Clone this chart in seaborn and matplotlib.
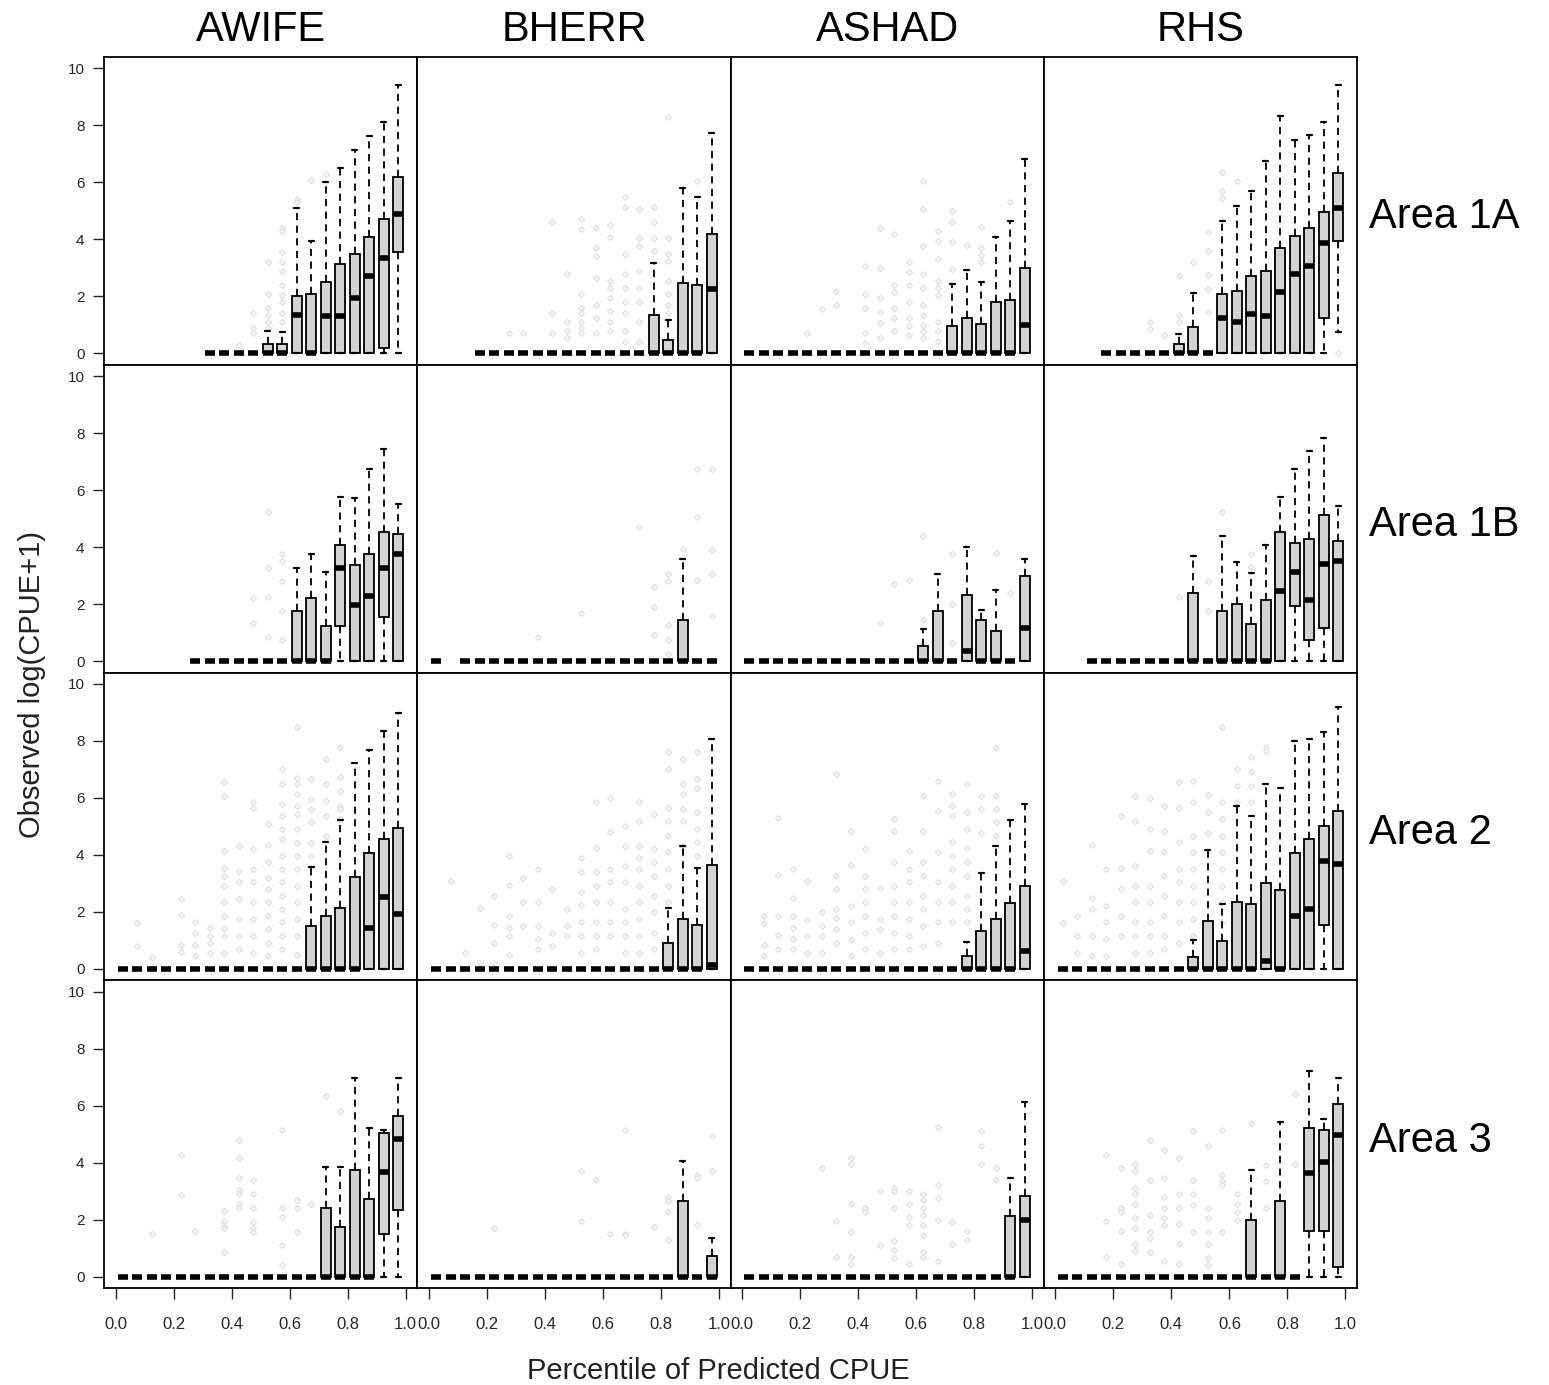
import numpy as np
import pandas as pd
import matplotlib
matplotlib.use("Agg")
import matplotlib.pyplot as plt
import seaborn as sns

sns.set_style("white")
plt.rcParams["font.family"] = ["Liberation Sans", "DejaVu Sans"]

species = ["AWIFE", "BHERR", "ASHAD", "RHS"]
areas = ["Area 1A", "Area 1B", "Area 2", "Area 3"]

# midpoints of the 20 percentile classes of predicted CPUE
bin_mid = [0.025, 0.075, 0.125, 0.175, 0.225, 0.275, 0.325, 0.375, 0.425, 0.475,
           0.525, 0.575, 0.625, 0.675, 0.725, 0.775, 0.825, 0.875, 0.925, 0.975]

# first occupied percentile class per species (AWIFE, BHERR, ASHAD, RHS)
first_bin_1a = [6, 3, 0, 3]
first_bin_1b = [5, 0, 0, 2]
first_bin_2 = [0, 0, 0, 0]
first_bin_3 = [0, 0, 0, 0]
# classes without observations inside the occupied range
empty_bins_1b_bherr = [1]

# box summaries: (class, lower whisker, Q1, median, Q3, upper whisker);
# every other occupied class is all zeros
box_awife_1a = [(10, 0, 0, 0, 0.33, 0.80), (11, 0, 0, 0, 0.32, 0.74), (12, 0, 0, 1.35, 2.00, 5.10),
                (13, 0, 0, 0, 2.07, 3.93), (14, 0, 0, 1.30, 2.50, 6.00), (15, 0, 0, 1.30, 3.15, 6.50),
                (16, 0, 0, 1.95, 3.50, 7.15), (17, 0, 0, 2.72, 4.07, 7.62), (18, 0, 0.20, 3.35, 4.72, 8.12),
                (19, 0, 3.54, 4.90, 6.19, 9.42)]
box_bherr_1a = [(15, 0, 0, 0, 1.36, 3.16), (16, 0, 0, 0, 0.47, 1.17), (17, 0, 0, 0, 2.46, 5.82),
                (18, 0, 0, 0, 2.39, 5.49), (19, 0, 0, 2.26, 4.19, 7.75)]
box_ashad_1a = [(14, 0, 0, 0, 0.97, 2.45), (15, 0, 0, 0, 1.24, 2.91), (16, 0, 0, 0, 1.04, 2.51),
                (17, 0, 0, 0, 1.81, 4.08), (18, 0, 0, 0, 1.88, 4.66), (19, 0, 0, 0.98, 2.98, 6.83)]
box_rhs_1a = [(8, 0, 0, 0, 0.33, 0.67), (9, 0, 0, 0, 0.91, 2.13), (11, 0, 0, 1.24, 2.08, 4.66),
              (12, 0, 0, 1.11, 2.20, 5.16), (13, 0, 0, 1.37, 2.72, 5.69), (14, 0, 0, 1.31, 2.90, 6.76),
              (15, 0, 0, 2.15, 3.68, 8.32), (16, 0, 0, 2.79, 4.11, 7.48), (17, 0, 0, 3.05, 4.39, 7.68),
              (18, 0, 1.23, 3.88, 4.95, 8.12), (19, 0.74, 3.94, 5.10, 6.33, 9.43)]

box_awife_1b = [(12, 0, 0, 0, 1.75, 3.25), (13, 0, 0, 0, 2.20, 3.75), (14, 0, 0, 0, 1.23, 3.12),
                (15, 0, 1.22, 3.25, 4.08, 5.77), (16, 0, 0, 1.96, 3.36, 5.71), (17, 0, 0, 2.27, 3.75, 6.74),
                (18, 0, 1.54, 3.25, 4.53, 7.43), (19, 0, 0, 3.77, 4.47, 5.50)]
box_bherr_1b = [(17, 0, 0, 0, 1.44, 3.58)]
box_ashad_1b = [(12, 0, 0, 0, 0.52, 1.11), (13, 0, 0, 0, 1.75, 3.05), (15, 0, 0, 0.34, 2.33, 4.01),
                (16, 0, 0, 0, 1.43, 1.80), (17, 0, 0, 0, 1.04, 2.51), (19, 0, 0, 1.17, 2.98, 3.60)]
box_rhs_1b = [(9, 0, 0, 0, 2.40, 3.69), (11, 0, 0, 0, 1.75, 4.40), (12, 0, 0, 0, 2.00, 3.48),
              (13, 0, 0, 0, 1.29, 3.09), (14, 0, 0, 0, 2.13, 4.07), (15, 0, 0, 2.45, 4.53, 5.77),
              (16, 0, 1.95, 3.11, 4.13, 6.74), (17, 0, 0.73, 2.13, 4.27, 7.37), (18, 0, 1.17, 3.42, 5.11, 7.83),
              (19, 0, 0, 3.51, 4.21, 5.44)]

box_awife_2 = [(13, 0, 0, 0, 1.49, 3.59), (14, 0, 0, 0, 1.87, 4.46), (15, 0, 0, 0, 2.12, 5.22),
               (16, 0, 0, 0, 3.22, 7.22), (17, 0, 0, 1.45, 4.06, 7.67), (18, 0, 0, 2.51, 4.56, 8.33),
               (19, 0, 0, 1.94, 4.95, 8.97)]
box_bherr_2 = [(16, 0, 0, 0, 0.89, 2.12), (17, 0, 0, 0, 1.74, 4.32), (18, 0, 0, 0, 1.54, 3.54),
               (19, 0, 0, 0.12, 3.66, 8.05)]
box_ashad_2 = [(15, 0, 0, 0, 0.44, 0.95), (16, 0, 0, 0, 1.33, 3.35), (17, 0, 0, 0, 1.74, 4.30),
               (18, 0, 0, 0, 2.32, 5.22), (19, 0, 0, 0.63, 2.90, 5.78)]
box_rhs_2 = [(9, 0, 0, 0, 0.42, 1.00), (10, 0, 0, 0, 1.67, 4.16), (11, 0, 0, 0, 0.96, 2.29),
             (12, 0, 0, 0, 2.33, 5.72), (13, 0, 0, 0, 2.26, 5.37), (14, 0, 0, 0.28, 3.03, 6.50),
             (15, 0, 0, 0, 2.78, 6.34), (16, 0, 0, 1.86, 4.07, 8.00), (17, 0, 0, 2.09, 4.56, 8.08),
             (18, 0, 1.54, 3.80, 5.03, 8.32), (19, 0, 0, 3.67, 5.53, 9.19)]

box_awife_3 = [(14, 0, 0, 0, 2.39, 3.86), (15, 0, 0, 0, 1.74, 3.86), (16, 0, 0, 0, 3.74, 6.97),
               (17, 0, 0, 0, 2.71, 5.20), (18, 0, 1.48, 3.68, 5.04, 5.14), (19, 0, 2.32, 4.84, 5.62, 6.97)]
box_bherr_3 = [(17, 0, 0, 0, 2.65, 4.07), (19, 0, 0, 0, 0.72, 1.36)]
box_ashad_3 = [(18, 0, 0, 0, 2.14, 3.47), (19, 0, 0, 2.00, 2.84, 6.12)]
box_rhs_3 = [(13, 0, 0, 0, 2.00, 3.73), (15, 0, 0, 0, 2.65, 5.41), (17, 0, 1.60, 3.62, 5.21, 7.21),
             (18, 0, 1.60, 4.01, 5.15, 5.54), (19, 0, 0.33, 4.98, 6.05, 6.97)]

# individual positive observations: (class, observed log(CPUE+1))
pts_awife_1a = [(8, 0.3), (9, 1.4), (9, 0.9), (9, 0.7), (10, 3.2), (10, 2.1), (10, 1.6), (10, 1.35), (10, 1.1),
                (10, 0.9), (11, 4.4), (11, 4.3), (11, 3.55), (11, 3.2), (11, 2.9), (11, 2.4), (11, 2.05), (11, 1.8),
                (11, 1.4), (11, 1.1), (12, 5.4), (12, 5.3), (13, 6.1), (14, 6.3)]
pts_bherr_1a = [(5, 0.7), (6, 0.7), (8, 4.6), (8, 1.4), (8, 0.7), (9, 2.8), (9, 1.1), (9, 0.8), (9, 0.55),
                (10, 4.7), (10, 4.35), (10, 2.1), (10, 1.6), (10, 1.4), (10, 1.1), (10, 0.9), (10, 0.7),
                (11, 4.4), (11, 3.7), (11, 3.4), (11, 2.65), (11, 1.7), (11, 1.25), (11, 0.7),
                (12, 4.5), (12, 4.1), (12, 2.55), (12, 2.3), (12, 1.95), (12, 1.5), (12, 1.1), (12, 0.8),
                (13, 5.5), (13, 5.15), (13, 3.5), (13, 2.8), (13, 2.3), (13, 1.8), (13, 1.4), (13, 0.8), (13, 0.4),
                (14, 5.05), (14, 4.05), (14, 3.75), (14, 2.9), (14, 2.3), (14, 1.8), (14, 1.1), (14, 0.4),
                (15, 5.15), (15, 4.6), (15, 4.05), (15, 3.6), (16, 8.3), (16, 4.05), (16, 3.5), (16, 3.25),
                (16, 2.55), (16, 2.1), (16, 1.7), (16, 1.4), (18, 6.05)]
pts_ashad_1a = [(4, 0.7), (5, 1.55), (6, 2.2), (6, 1.7), (8, 3.05), (8, 2.1), (8, 1.6), (8, 0.7), (8, 0.35),
                (9, 4.4), (9, 3.0), (9, 1.95), (9, 1.45), (9, 1.05), (9, 0.55), (10, 4.2), (10, 2.4), (10, 2.15),
                (10, 1.6), (10, 1.25), (10, 0.8), (11, 3.2), (11, 2.85), (11, 2.4), (11, 1.8), (11, 1.25),
                (11, 0.95), (11, 0.65), (12, 6.05), (12, 5.05), (12, 3.75), (12, 2.8), (12, 2.3), (12, 1.7),
                (12, 1.35), (12, 1.0), (12, 0.8), (12, 0.55), (13, 4.3), (13, 3.95), (13, 3.3), (13, 2.55),
                (13, 2.3), (13, 2.05), (13, 1.1), (13, 0.8), (13, 0.45), (14, 5.0), (14, 4.6), (14, 3.9),
                (14, 2.95), (15, 3.8), (16, 4.45), (16, 3.7), (16, 3.45), (16, 3.2), (18, 5.3)]
pts_rhs_1a = [(6, 1.1), (6, 0.85), (7, 0.65), (8, 2.7), (8, 1.35), (8, 1.1), (9, 3.2), (10, 4.25), (10, 3.6),
              (10, 2.75), (10, 2.25), (10, 1.45), (11, 6.35), (11, 5.7), (11, 5.45), (12, 6.05), (19, 0.0)]

pts_awife_1b = [(9, 2.2), (9, 1.35), (10, 5.25), (10, 3.25), (10, 2.25), (10, 0.85), (11, 3.75), (11, 3.5),
                (11, 2.8), (11, 1.75), (11, 0.75)]
pts_bherr_1b = [(7, 0.85), (10, 1.7), (14, 4.7), (15, 2.6), (15, 1.9), (15, 0.9), (16, 3.05), (16, 2.8),
                (16, 1.25), (16, 0.75), (16, 0.25), (17, 3.95), (18, 6.75), (18, 5.05), (18, 2.85),
                (19, 6.75), (19, 3.9), (19, 3.05), (19, 1.6)]
pts_ashad_1b = [(9, 1.35), (10, 2.7), (11, 2.85), (12, 4.4), (12, 1.45), (12, 0.65), (14, 3.75), (14, 2.0),
                (14, 0.65), (17, 3.8), (18, 2.4)]
pts_rhs_1b = [(8, 2.25), (10, 2.8), (10, 1.75), (11, 5.25), (13, 3.75), (13, 3.3)]

pts_awife_2 = [(1, 1.6), (1, 0.8), (2, 0.4), (4, 2.45), (4, 1.9), (4, 0.85), (4, 0.6), (5, 1.65), (5, 1.25),
               (5, 0.85), (5, 0.45), (6, 1.45), (6, 1.15), (6, 0.9), (6, 0.55), (7, 6.55), (7, 6.05), (7, 4.15),
               (7, 3.55), (7, 3.25), (7, 2.9), (7, 2.35), (7, 1.85), (7, 1.45), (7, 1.15), (7, 0.55),
               (8, 4.3), (8, 3.45), (8, 3.05), (8, 2.45), (8, 1.75), (8, 1.15), (8, 0.7), (9, 5.85), (9, 5.65),
               (9, 4.2), (9, 3.5), (9, 3.05), (9, 2.35), (9, 1.75), (9, 1.15), (9, 0.55), (10, 5.1), (10, 4.35),
               (10, 3.75), (10, 3.2), (10, 2.8), (10, 2.35), (10, 1.85), (10, 1.4), (10, 0.9), (10, 0.45),
               (11, 7.0), (11, 6.5), (11, 5.8), (11, 5.35), (11, 4.9), (11, 4.55), (11, 3.95), (11, 3.5),
               (11, 3.05), (11, 2.55), (11, 2.1), (11, 1.65), (11, 1.15), (11, 0.7), (12, 8.5), (12, 6.7),
               (12, 6.5), (12, 6.15), (12, 5.7), (12, 5.45), (12, 4.9), (12, 4.4), (12, 3.95), (12, 3.5),
               (12, 2.9), (12, 2.35), (12, 1.75), (12, 1.15), (12, 0.5), (13, 6.65), (13, 5.95), (13, 5.6),
               (13, 5.15), (13, 4.4), (13, 3.95), (14, 7.35), (14, 6.5), (14, 5.9), (14, 5.35), (14, 4.65),
               (15, 7.8), (15, 6.75), (15, 6.25), (15, 5.7), (15, 5.6), (15, 5.25)]
pts_bherr_2 = [(1, 3.1), (2, 0.55), (3, 2.15), (3, 0.2), (4, 2.55), (4, 1.55), (4, 0.9), (4, 0.2), (5, 3.95),
               (5, 2.95), (5, 1.85), (5, 1.45), (5, 1.15), (5, 0.5), (6, 3.2), (6, 2.35), (6, 1.5), (7, 3.5),
               (7, 2.35), (7, 1.5), (7, 1.05), (7, 0.7), (8, 2.8), (8, 1.25), (8, 0.8), (9, 2.1), (9, 1.5),
               (9, 1.15), (10, 3.9), (10, 3.4), (10, 2.7), (10, 2.25), (10, 1.65), (10, 1.15), (10, 0.55),
               (11, 5.85), (11, 4.25), (11, 3.4), (11, 2.9), (11, 2.35), (11, 1.65), (11, 1.15), (11, 0.7),
               (12, 6.0), (12, 4.8), (12, 3.5), (12, 3.05), (12, 2.35), (12, 1.65), (12, 1.15), (13, 5.0),
               (13, 4.3), (13, 3.6), (13, 3.05), (13, 2.1), (13, 1.65), (13, 1.15), (13, 0.55), (14, 5.85),
               (14, 5.2), (14, 4.3), (14, 3.9), (14, 3.5), (14, 2.9), (14, 2.35), (14, 1.75), (14, 1.15),
               (14, 0.55), (15, 5.45), (15, 4.2), (15, 3.75), (15, 3.25), (15, 2.55), (15, 2.0), (15, 1.25),
               (15, 0.7), (16, 7.6), (16, 7.0), (16, 5.65), (16, 5.2), (16, 4.65), (16, 4.1), (16, 3.5),
               (16, 2.9), (16, 2.35), (17, 7.35), (17, 6.5), (17, 6.15), (17, 5.6), (17, 5.2), (17, 4.3),
               (18, 7.6), (18, 6.65), (18, 6.35), (18, 5.5), (18, 4.9), (18, 4.45), (18, 3.95)]
pts_ashad_2 = [(1, 1.85), (1, 1.6), (1, 0.85), (1, 0.45), (2, 5.3), (2, 3.3), (2, 1.85), (2, 1.2), (2, 0.7),
               (3, 3.5), (3, 2.5), (3, 1.85), (3, 1.45), (3, 1.05), (3, 0.7), (4, 3.1), (4, 1.7), (4, 1.15),
               (4, 0.55), (5, 2.0), (5, 1.5), (5, 1.15), (5, 0.55), (6, 6.85), (6, 3.25), (6, 2.8), (6, 2.1),
               (6, 1.8), (6, 1.4), (6, 0.9), (7, 4.85), (7, 3.65), (7, 2.2), (7, 1.65), (7, 1.0), (7, 0.45),
               (8, 4.2), (8, 3.25), (8, 2.8), (8, 2.35), (8, 1.85), (8, 1.25), (8, 0.7), (9, 2.85), (9, 1.75),
               (9, 1.4), (9, 0.55), (10, 5.25), (10, 4.85), (10, 3.75), (10, 2.9), (10, 2.35), (10, 1.85),
               (10, 1.25), (10, 0.7), (11, 4.15), (11, 3.5), (11, 3.05), (11, 2.35), (11, 1.75), (11, 1.15),
               (11, 0.7), (12, 6.05), (12, 4.85), (12, 3.75), (12, 3.25), (12, 2.55), (12, 2.1), (12, 1.5),
               (12, 0.8), (13, 6.6), (13, 5.55), (13, 4.1), (13, 3.05), (13, 2.35), (13, 1.65), (13, 0.9),
               (14, 6.15), (14, 5.7), (14, 5.35), (14, 4.45), (14, 3.95), (14, 3.5), (14, 2.9), (14, 2.35),
               (14, 1.65), (15, 6.5), (15, 5.5), (15, 4.9), (15, 4.25), (15, 3.75), (15, 3.25), (15, 2.55),
               (15, 2.1), (15, 1.65), (16, 6.05), (16, 5.6), (16, 4.75), (17, 7.75), (17, 6.05), (17, 5.6),
               (17, 5.15), (17, 4.65)]
pts_rhs_2 = [(0, 3.1), (0, 1.6), (1, 1.85), (1, 1.15), (1, 0.55), (2, 4.35), (2, 2.5), (2, 2.1), (2, 1.15),
             (2, 0.45), (3, 3.5), (3, 2.2), (3, 1.65), (3, 1.05), (3, 0.45), (4, 5.35), (4, 3.55), (4, 2.8),
             (4, 1.85), (4, 1.15), (5, 6.05), (5, 5.2), (5, 3.6), (5, 2.9), (5, 2.35), (5, 1.65), (5, 1.15),
             (5, 0.55), (6, 6.0), (6, 4.9), (6, 4.15), (6, 2.9), (6, 2.35), (6, 1.65), (6, 1.15), (6, 0.55),
             (7, 5.7), (7, 4.85), (7, 4.1), (7, 3.25), (7, 2.55), (7, 1.85), (7, 1.15), (7, 0.7), (8, 6.55),
             (8, 5.65), (8, 4.45), (8, 3.5), (8, 3.05), (8, 2.35), (8, 1.65), (8, 0.9), (9, 6.6), (9, 5.85),
             (9, 4.65), (9, 4.1), (9, 3.5), (9, 2.9), (9, 2.35), (9, 1.75), (9, 1.15), (10, 6.1), (10, 5.5),
             (10, 4.75), (11, 8.5), (11, 5.85), (11, 5.25), (11, 4.65), (11, 4.1), (11, 3.5), (11, 2.9),
             (11, 2.35), (11, 1.65), (12, 7.0), (12, 6.4), (12, 5.85), (13, 7.45), (13, 6.9), (13, 6.4),
             (13, 5.85), (14, 7.8), (14, 7.65)]

pts_awife_3 = [(2, 1.5), (4, 4.25), (4, 2.85), (5, 1.6), (7, 2.3), (7, 1.95), (7, 1.75), (7, 1.7), (7, 0.85),
               (8, 4.8), (8, 4.15), (8, 3.45), (8, 3.05), (8, 2.9), (8, 2.55), (8, 2.4), (9, 3.4), (9, 2.9),
               (9, 2.4), (9, 1.9), (9, 1.7), (9, 1.55), (11, 5.15), (11, 2.4), (11, 2.1), (11, 1.1), (11, 0.4),
               (12, 2.7), (12, 2.4), (12, 1.55), (13, 2.55), (14, 6.35), (15, 5.8)]
pts_bherr_3 = [(4, 1.7), (10, 3.7), (10, 1.95), (11, 3.4), (12, 1.5), (13, 5.15), (13, 1.5), (13, 1.45),
               (15, 1.75), (16, 2.8), (16, 2.65), (16, 2.25), (16, 1.3), (18, 3.55), (18, 3.45), (18, 1.8),
               (19, 4.95), (19, 3.7)]
pts_ashad_3 = [(5, 3.8), (6, 1.95), (6, 0.7), (7, 4.15), (7, 3.95), (7, 2.55), (7, 1.55), (7, 0.7), (7, 0.45),
               (8, 2.4), (8, 2.25), (9, 3.0), (9, 1.1), (10, 3.1), (10, 3.0), (10, 2.4), (10, 1.25), (10, 0.95),
               (10, 0.65), (11, 3.0), (11, 2.55), (11, 2.1), (11, 1.8), (11, 0.45), (12, 2.9), (12, 2.7),
               (12, 2.4), (12, 2.15), (12, 1.8), (12, 1.45), (12, 0.85), (12, 0.7), (13, 5.25), (13, 3.2),
               (13, 2.75), (13, 2.0), (13, 0.55), (14, 1.9), (14, 1.15), (15, 1.6), (15, 1.3), (16, 5.1),
               (16, 4.6), (16, 3.95), (17, 3.8), (17, 3.4)]
pts_rhs_3 = [(3, 4.25), (3, 1.95), (3, 0.7), (4, 3.8), (4, 2.4), (4, 2.25), (4, 1.6), (4, 0.45), (5, 3.95),
             (5, 3.7), (5, 3.1), (5, 2.9), (5, 2.55), (5, 2.05), (5, 1.7), (5, 1.15), (5, 0.9), (6, 4.8),
             (6, 3.4), (6, 2.15), (6, 1.55), (6, 1.35), (6, 0.85), (7, 4.45), (7, 3.45), (7, 2.8), (7, 2.4),
             (7, 2.05), (7, 1.8), (7, 0.55), (8, 4.15), (8, 2.9), (8, 2.4), (8, 1.85), (8, 1.15), (8, 0.45),
             (9, 5.1), (9, 3.4), (9, 2.9), (9, 2.5), (9, 1.55), (10, 4.6), (10, 2.4), (10, 2.05), (10, 1.55),
             (10, 1.15), (10, 0.65), (10, 0.4), (11, 5.15), (11, 3.55), (11, 3.35), (11, 3.2), (11, 1.55),
             (12, 2.9), (12, 2.55), (12, 2.25), (12, 2.0), (13, 5.4), (14, 3.9), (14, 3.35), (14, 2.4),
             (16, 6.4), (16, 3.95)]

first_bins = {"Area 1A": first_bin_1a, "Area 1B": first_bin_1b, "Area 2": first_bin_2, "Area 3": first_bin_3}
boxes = {
    "Area 1A": [box_awife_1a, box_bherr_1a, box_ashad_1a, box_rhs_1a],
    "Area 1B": [box_awife_1b, box_bherr_1b, box_ashad_1b, box_rhs_1b],
    "Area 2": [box_awife_2, box_bherr_2, box_ashad_2, box_rhs_2],
    "Area 3": [box_awife_3, box_bherr_3, box_ashad_3, box_rhs_3],
}
points = {
    "Area 1A": [pts_awife_1a, pts_bherr_1a, pts_ashad_1a, pts_rhs_1a],
    "Area 1B": [pts_awife_1b, pts_bherr_1b, pts_ashad_1b, pts_rhs_1b],
    "Area 2": [pts_awife_2, pts_bherr_2, pts_ashad_2, pts_rhs_2],
    "Area 3": [pts_awife_3, pts_bherr_3, pts_ashad_3, pts_rhs_3],
}
gaps = {("Area 1B", "BHERR"): empty_bins_1b_bherr}


def box_frame(area, j):
    """Five values per class whose quartiles reproduce the box summary."""
    stats = {b[0]: b[1:] for b in boxes[area][j]}
    skip = gaps.get((area, species[j]), [])
    rows = []
    for k in range(first_bins[area][j], len(bin_mid)):
        if k in skip:
            continue
        vals = stats.get(k, (0, 0, 0, 0, 0))
        rows += [(bin_mid[k], v) for v in vals]
    return pd.DataFrame(rows, columns=["pct", "value"])


def point_frame(area, j):
    return pd.DataFrame([(bin_mid[k], v) for k, v in points[area][j]], columns=["pct", "value"])


W, H = 1549, 1385
fig, axes = plt.subplots(4, 4, figsize=(W / 100, H / 100), dpi=100)
fig.subplots_adjust(left=104 / W, right=1357 / W, top=1 - 57 / H, bottom=1 - 1288 / H,
                    wspace=0, hspace=0)

for i, area in enumerate(areas):
    for j, sp in enumerate(species):
        ax = axes[i, j]
        pdf = point_frame(area, j)
        if len(pdf):
            sns.scatterplot(data=pdf, x="pct", y="value", ax=ax, marker="D", s=10,
                            color="#f6f6f6", edgecolor="#dddddd", linewidth=0.7, legend=False)
        sns.boxplot(data=box_frame(area, j), x="pct", y="value", ax=ax, native_scale=True,
                    orient="x", whis=(0, 100), width=0.7, color="#d3d3d3", saturation=1,
                    linecolor="black", linewidth=1.3, showfliers=False,
                    whiskerprops=dict(linestyle=(0, (4, 3)), linewidth=1.3),
                    capprops=dict(linewidth=1.6),
                    medianprops=dict(linewidth=4, solid_capstyle="butt"))
        ax.set_xlim(-0.04, 1.04)
        ax.set_ylim(-0.4, 10.4)
        ax.set_xlabel("")
        ax.set_ylabel("")
        for s in ax.spines.values():
            s.set_color("black")
            s.set_linewidth(1.3)
        ax.set_xticks([0, 0.2, 0.4, 0.6, 0.8, 1.0])
        ax.set_xticklabels(["0.0", "0.2", "0.4", "0.6", "0.8", "1.0"])
        ax.set_yticks([0, 2, 4, 6, 8, 10])
        ax.tick_params(axis="x", direction="out", length=8, width=1, pad=13,
                       labelsize=12, bottom=(i == 3), labelbottom=(i == 3))
        ax.tick_params(axis="y", direction="out", length=8, width=1, pad=6,
                       labelsize=11, left=(j == 0), labelleft=(j == 0))

col_centers = [261, 574.5, 887.5, 1200.5]
for j, sp in enumerate(species):
    fig.text(col_centers[j] / W, 1 - 30 / H, sp, ha="center", va="center", fontsize=30, color="black")

row_centers = [217, 525, 833, 1141]
for i, area in enumerate(areas):
    fig.text(1369 / W, 1 - row_centers[i] / H, area, ha="left", va="center", fontsize=30, color="black")

fig.text(32 / W, 1 - 684 / H, "Observed log(CPUE+1)", rotation=90, ha="center", va="center",
         fontsize=21, color="#222222")
fig.text(718 / W, 1 - 1371 / H, "Percentile of Predicted CPUE", ha="center", va="center",
         fontsize=21, color="#222222")

fig.savefig("out.png", dpi=100)
